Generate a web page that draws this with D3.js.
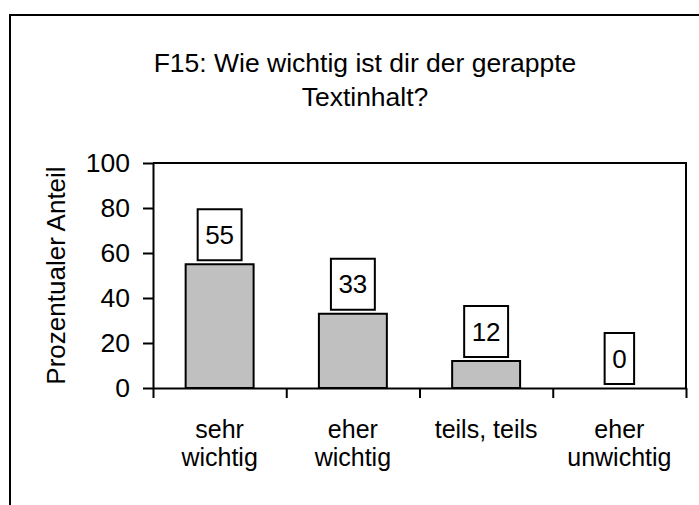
<!DOCTYPE html>
<html>
<head>
<meta charset="utf-8">
<script src="https://cdn.jsdelivr.net/npm/d3@7"></script>
<style>
  body { margin: 0; background: #fff; }
  text { font-family: "Liberation Sans", Arial, sans-serif; fill: #000; }
</style>
</head>
<body>
<div id="chart"></div>
<script>
// Data
var categories = [["sehr", "wichtig"], ["eher", "wichtig"], ["teils, teils"], ["eher", "unwichtig"]];
var values = [55, 33, 12, 0];
var yTicks = [0, 20, 40, 60, 80, 100];
var titleLines = ["F15: Wie wichtig ist dir der gerappte", "Textinhalt?"];
var yTitle = "Prozentualer Anteil";

var width = 699, height = 505;
var plot = { left: 153, right: 686, top: 163, bottom: 388 };

var svg = d3.select("#chart").append("svg")
    .attr("width", width)
    .attr("height", height);

// outer chart frame (cut off at right and bottom)
svg.append("path")
    .attr("d", "M10," + height + "V15H" + width)
    .attr("fill", "none")
    .attr("stroke", "#000")
    .attr("stroke-width", 2);

var keys = categories.map(function (d, i) { return i; });

var x = d3.scaleBand()
    .domain(keys)
    .range([plot.left, plot.right]);

var xEdge = d3.scaleLinear()
    .domain([0, categories.length])
    .range([plot.left, plot.right]);

var y = d3.scaleLinear()
    .domain([0, 100])
    .range([plot.bottom, plot.top]);

// plot area frame (top and right)
svg.append("path")
    .attr("d", "M" + plot.left + "," + plot.top + "H" + plot.right + "V" + plot.bottom)
    .attr("fill", "none")
    .attr("stroke", "#000")
    .attr("stroke-width", 2);

// title
svg.append("g")
    .selectAll("text")
    .data(titleLines)
    .join("text")
    .attr("x", 365)
    .attr("y", function (d, i) { return 72 + i * 34; })
    .attr("text-anchor", "middle")
    .attr("font-size", "26.5px")
    .text(function (d) { return d; });

// y axis
var yAxis = d3.axisLeft(y)
    .tickValues(yTicks)
    .tickSize(10)
    .tickSizeOuter(0)
    .tickPadding(13);

var gy = svg.append("g")
    .attr("transform", "translate(" + plot.left + ",0)")
    .call(yAxis);
gy.selectAll("text")
    .attr("font-size", "26.5px")
    .attr("font-family", "Liberation Sans, Arial, sans-serif");
gy.selectAll("line, path").attr("stroke", "#000").attr("stroke-width", 2);

// y title
svg.append("text")
    .attr("transform", "translate(65," + ((plot.top + plot.bottom) / 2) + ") rotate(-90)")
    .attr("text-anchor", "middle")
    .attr("font-size", "26px")
    .text(yTitle);

// x axis with ticks at category boundaries
var xAxis = d3.axisBottom(xEdge)
    .tickValues(d3.range(categories.length + 1))
    .tickSize(10)
    .tickSizeOuter(0)
    .tickFormat("");

var gx = svg.append("g")
    .attr("transform", "translate(0," + plot.bottom + ")")
    .call(xAxis);
gx.selectAll("line, path").attr("stroke", "#000").attr("stroke-width", 2);

// bars
var barW = x.bandwidth() * 0.51;
svg.append("g")
    .selectAll("rect")
    .data(values)
    .join("rect")
    .attr("x", function (d, i) { return x(i) + (x.bandwidth() - barW) / 2; })
    .attr("y", function (d) { return y(d); })
    .attr("width", barW)
    .attr("height", function (d) { return plot.bottom - y(d); })
    .attr("fill", "#c0c0c0")
    .attr("stroke", "#000")
    .attr("stroke-width", 2);

// value labels in boxes
var labels = svg.append("g")
    .selectAll("g")
    .data(values)
    .join("g");

labels.each(function (d, i) {
    var g = d3.select(this);
    var cx = x(i) + x.bandwidth() / 2;
    var boxBottom = y(d) - 4;
    var boxH = 51;
    var t = g.append("text")
        .attr("x", cx)
        .attr("y", boxBottom - boxH / 2)
        .attr("dy", "0.35em")
        .attr("text-anchor", "middle")
        .attr("font-size", "26px")
        .text(d);
    var w = t.node().getBBox().width + 15;
    g.insert("rect", "text")
        .attr("x", cx - w / 2)
        .attr("y", boxBottom - boxH)
        .attr("width", w)
        .attr("height", boxH)
        .attr("fill", "#fff")
        .attr("stroke", "#000")
        .attr("stroke-width", 2);
});

// category labels
svg.append("g")
    .selectAll("text")
    .data(categories)
    .join("text")
    .attr("text-anchor", "middle")
    .attr("font-size", "25px")
    .each(function (d, i) {
        d3.select(this).selectAll("tspan")
            .data(d)
            .join("tspan")
            .attr("x", x(i) + x.bandwidth() / 2)
            .attr("y", function (s, j) { return 438 + j * 28; })
            .text(function (s) { return s; });
    });
</script>
</body>
</html>
